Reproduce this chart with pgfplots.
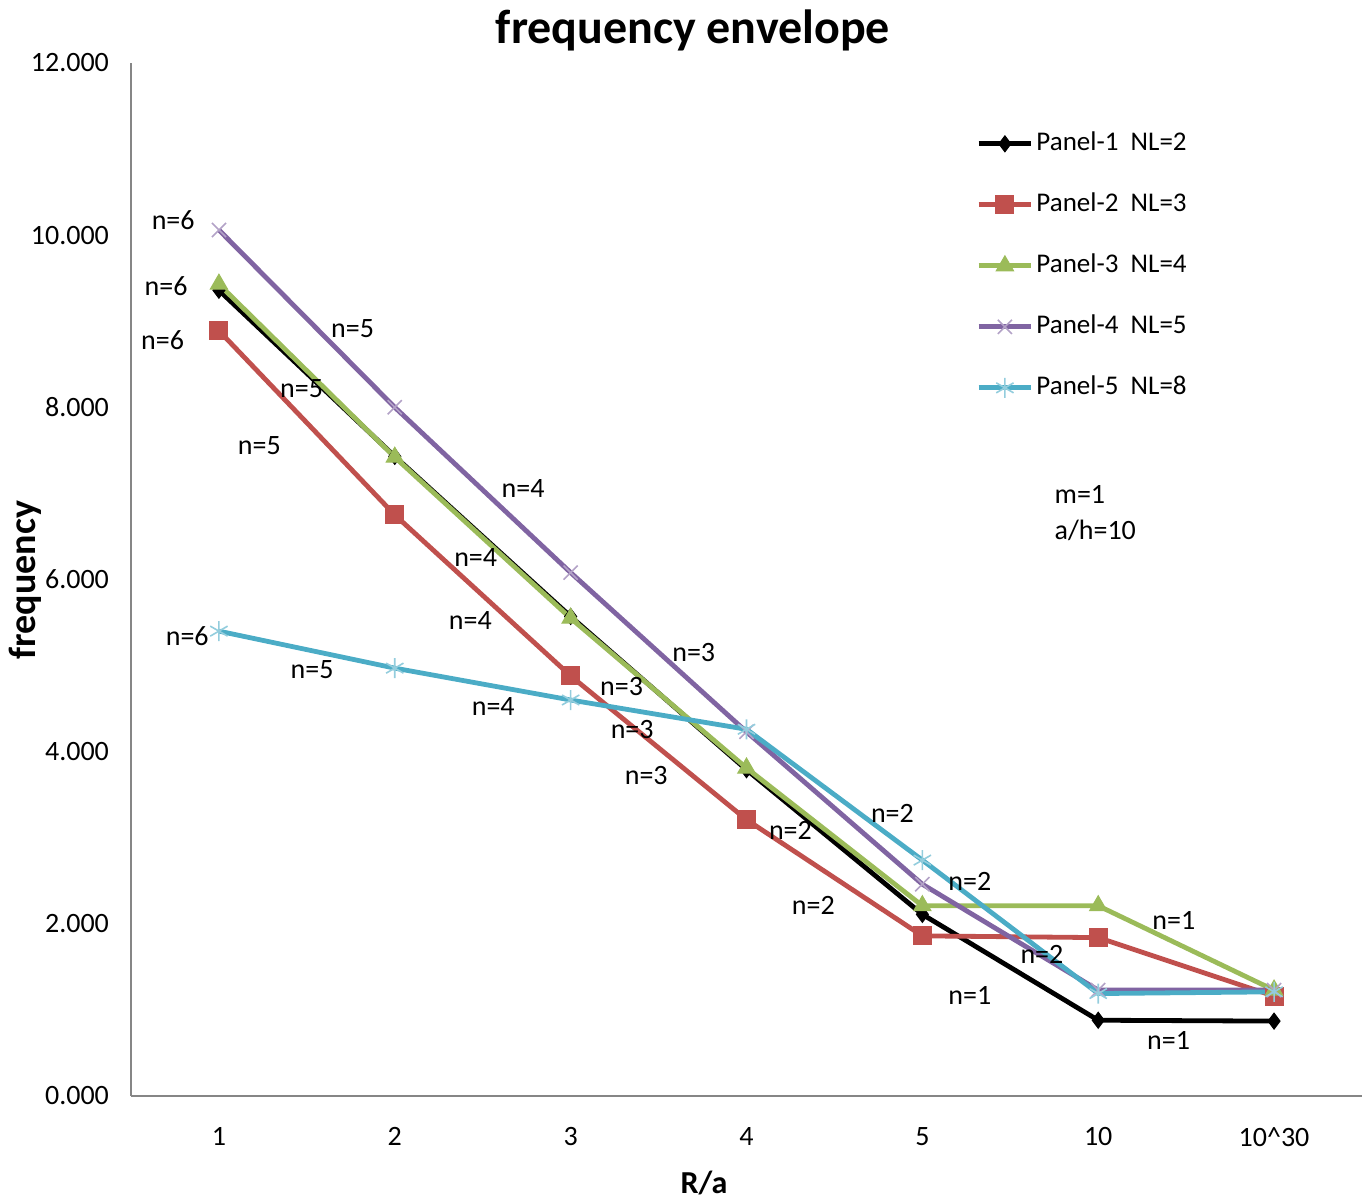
\documentclass[border=0pt]{standalone}
\usepackage{pgfplots}
\pgfplotsset{compat=1.18}
\usepackage{fontspec}
\setmainfont{Carlito}
\definecolor{c1}{HTML}{000000}
\definecolor{c2}{HTML}{C0504D}
\definecolor{c3}{HTML}{9BBB59}
\definecolor{c4}{HTML}{8064A2}
\definecolor{c4m}{HTML}{B3A2C7}
\definecolor{c5}{HTML}{4BACC6}
\definecolor{c5m}{HTML}{93CDDD}
\definecolor{axgray}{HTML}{868686}
\begin{document}
\begin{tikzpicture}
\path[use as bounding box] (0,0) rectangle (684.5pt,601pt);
\begin{axis}[
  at={(65.5pt,53pt)}, anchor=south west,
  scale only axis, width=615.5pt, height=516.5pt,
  xmin=-0.5, xmax=6.5, ymin=0, ymax=12,
  axis x line*=bottom, axis y line*=left,
  axis line style={draw=axgray, line width=0.8pt},
  xtick={0,...,6},
  xticklabels={1,2,3,4,5,10,10\textasciicircum 30},
  ytick={0,2,...,12},
  major tick length=0pt,
  tick label style={font=\fontsize{14}{16}\selectfont},
  yticklabel style={/pgf/number format/fixed, /pgf/number format/fixed zerofill, /pgf/number format/precision=3, /pgf/number format/assume math mode=true, xshift=-7.5pt},
  xticklabel style={yshift=-12.2pt},
  clip=false,
  legend cell align=left,
  legend style={at={(0.6815,0.941)}, anchor=north west, draw=none, fill=none,
    font=\fontsize{13.5}{15}\selectfont,
    nodes={inner sep=1.5pt, text height=9.5pt, text depth=3pt},
    row sep=15pt},
  legend image code/.code={\draw[mark repeat=2,mark phase=2] plot coordinates {(0cm,0cm)(0.46cm,0cm)(0.92cm,0cm)};},
  every axis plot/.append style={line width=2.4pt},
]
\addplot[c1, mark=diamond*, mark size=4pt, mark options={fill=c1, line width=0.5pt}] coordinates
  {(0,9.36) (1,7.43) (2,5.57) (3,3.79) (4,2.11) (5,0.88) (6,0.87)};
\addlegendentry{Panel-1\ \ NL=2}
\addplot[c2, mark=square*, mark size=4.5pt, mark options={fill=c2, line width=0.5pt}] coordinates
  {(0,8.89) (1,6.75) (2,4.88) (3,3.21) (4,1.86) (5,1.84) (6,1.16)};
\addlegendentry{Panel-2\ \ NL=3}
\addplot[c3, mark=triangle*, mark size=5pt, mark options={fill=c3, line width=0.5pt}] coordinates
  {(0,9.43) (1,7.42) (2,5.55) (3,3.81) (4,2.21) (5,2.21) (6,1.23)};
\addlegendentry{Panel-3\ \ NL=4}
\addplot[c4, mark=x, mark size=5pt, mark options={draw=c4m, line width=0.8pt}] coordinates
  {(0,10.06) (1,8.00) (2,6.08) (3,4.23) (4,2.46) (5,1.23) (6,1.23)};
\addlegendentry{Panel-4\ \ NL=5}
\addplot[c5, mark=asterisk, mark size=5pt, mark options={draw=c5m, line width=0.8pt}] coordinates
  {(0,5.40) (1,4.97) (2,4.60) (3,4.26) (4,2.74) (5,1.19) (6,1.21)};
\addlegendentry{Panel-5\ \ NL=8}

\begin{scope}[every node/.style={font=\fontsize{14}{16}\selectfont, inner sep=0pt}]
\node at (axis cs:-0.26,10.18) {n=6};
\node at (axis cs:-0.30,9.41) {n=6};
\node at (axis cs:-0.32,8.78) {n=6};
\node at (axis cs:-0.18,5.34) {n=6};
\node at (axis cs:0.76,8.92) {n=5};
\node at (axis cs:0.47,8.22) {n=5};
\node at (axis cs:0.23,7.56) {n=5};
\node at (axis cs:0.53,4.95) {n=5};
\node at (axis cs:1.73,7.06) {n=4};
\node at (axis cs:1.46,6.25) {n=4};
\node at (axis cs:1.43,5.52) {n=4};
\node at (axis cs:1.56,4.52) {n=4};
\node at (axis cs:2.70,5.15) {n=3};
\node at (axis cs:2.29,4.76) {n=3};
\node at (axis cs:2.35,4.26) {n=3};
\node at (axis cs:2.43,3.72) {n=3};
\node at (axis cs:3.83,3.28) {n=2};
\node at (axis cs:3.25,3.08) {n=2};
\node at (axis cs:4.27,2.49) {n=2};
\node at (axis cs:3.38,2.21) {n=2};
\node at (axis cs:4.68,1.64) {n=2};
\node at (axis cs:5.43,2.04) {n=1};
\node at (axis cs:4.27,1.17) {n=1};
\node at (axis cs:5.40,0.64) {n=1};
\node[anchor=west, align=left] at (axis cs:4.75,6.99) {m=1};
\node[anchor=west, align=left] at (axis cs:4.75,6.57) {a/h=10};
\end{scope}
\end{axis}
\node[font=\fontsize{24}{28}\bfseries\selectfont] at (346.5pt,586pt) {frequency envelope};
\node[font=\fontsize{19}{22}\bfseries\selectfont, rotate=90] at (12.5pt,311pt) {frequency};
\node[font=\fontsize{16}{19}\bfseries\selectfont] at (352pt,9.5pt) {R/a};
\end{tikzpicture}
\end{document}
